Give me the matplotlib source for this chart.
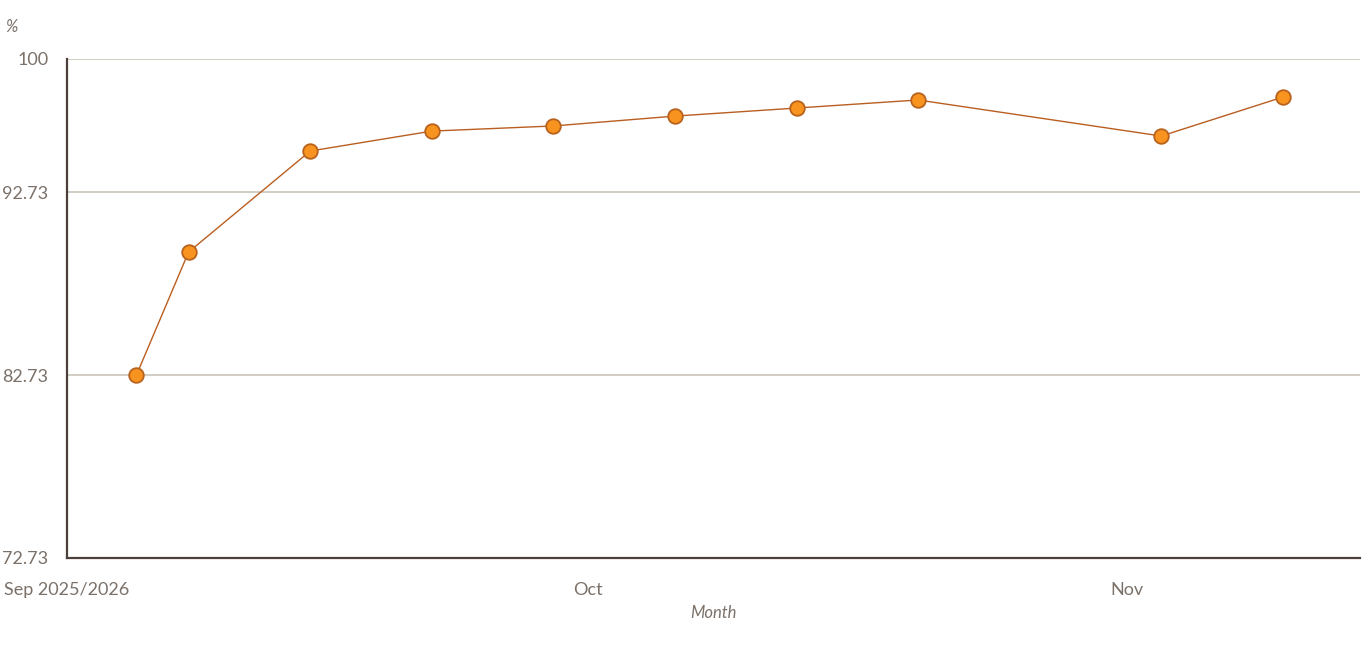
import matplotlib
matplotlib.use("Agg")
import matplotlib.pyplot as plt
import numpy as np
import datetime as dt

# weekly values
dates = ["2025-09-05", "2025-09-08", "2025-09-15", "2025-09-22", "2025-09-29",
         "2025-10-06", "2025-10-13", "2025-10-20", "2025-11-03", "2025-11-10"]
values = [82.73, 89.45, 94.97, 96.06, 96.34, 96.88, 97.32, 97.76, 95.79, 97.92]

y_ticks = [72.73, 82.73, 92.73, 100]
y_tick_labels = ["72.73", "82.73", "92.73", "100"]
x_ticks = ["2025-09-01", "2025-10-01", "2025-11-01"]
x_tick_labels = ["Sep 2025/2026", "Oct", "Nov"]

plt.rcParams['font.family'] = ['Lato', 'DejaVu Sans']

text_col = "#7b7169"
axis_col = "#4b413a"
grid_col = "#cac5bb"

x = [dt.datetime.strptime(d, "%Y-%m-%d") for d in dates]
xt = [dt.datetime.strptime(d, "%Y-%m-%d") for d in x_ticks]

fig = plt.figure(figsize=(13.68, 6.58), dpi=100)
ax = fig.add_axes([67 / 1368, 1 - 558 / 658, (1360 - 67) / 1368, (558 - 59) / 658])

ax.plot(x, values, color="#b95e20", lw=1.0, marker="o", markersize=10.5,
        markerfacecolor="#f7931e", markeredgecolor="#b8621e", markeredgewidth=1.3,
        zorder=3)

ax.set_xlim(dt.datetime(2025, 9, 1), dt.datetime(2025, 11, 14, 10, 30))
ax.set_ylim(72.73, 100)

ax.set_yticks(y_ticks)
ax.set_yticklabels(y_tick_labels)
ax.set_xticks(xt)
ax.set_xticklabels(x_tick_labels)

ax.grid(axis="y", color=grid_col, lw=1.2)
ax.set_axisbelow(True)
ax.tick_params(length=0, labelsize=13, colors=text_col)
ax.tick_params(axis="y", pad=13.5)
ax.tick_params(axis="x", pad=17)

for s in ["top", "right"]:
    ax.spines[s].set_visible(False)
for s in ["left", "bottom"]:
    ax.spines[s].set_color(axis_col)
    ax.spines[s].set_linewidth(1.6)

ax.set_xlabel("Month", style="italic", fontsize=12, color=text_col, labelpad=5)
fig.text(5 / 1368, 1 - 27 / 658, "%", style="italic", fontsize=12, color=text_col,
         va="center", ha="left")

fig.savefig("out.png", dpi=100)
